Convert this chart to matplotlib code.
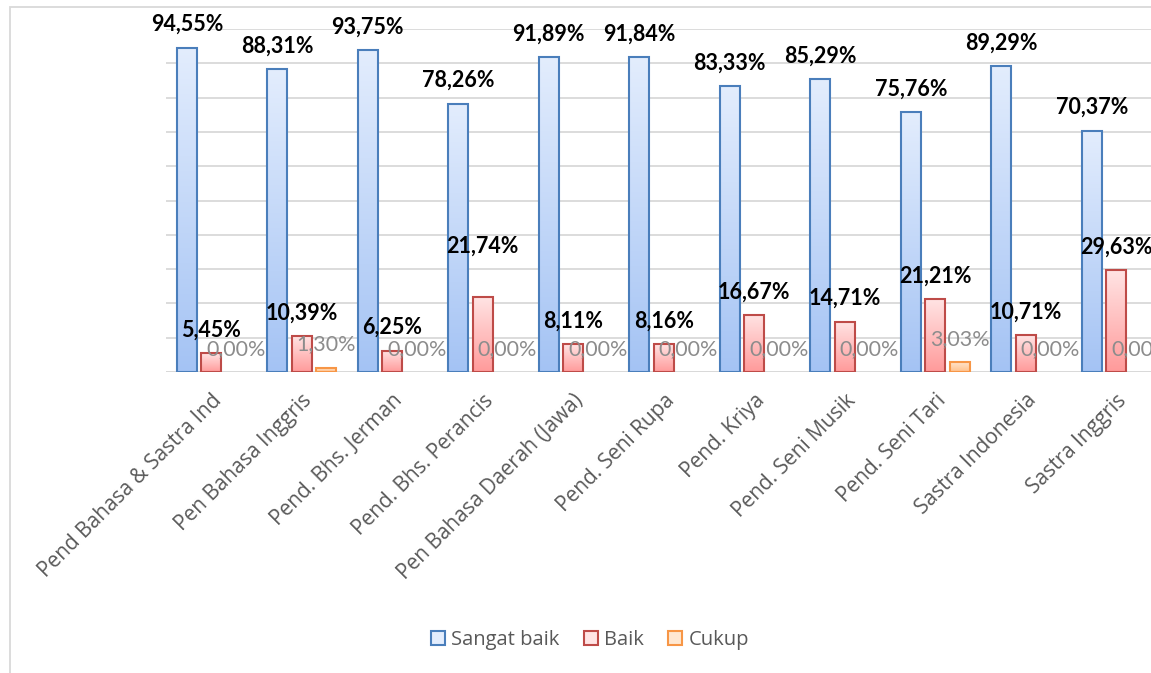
import numpy as np
import matplotlib
matplotlib.use('Agg')
import matplotlib.pyplot as plt
from matplotlib.colors import LinearSegmentedColormap
from matplotlib.patches import Rectangle, Patch

# data
categories = ['Pend Bahasa & Sastra Ind', 'Pen Bahasa Inggris', 'Pend. Bhs. Jerman',
              'Pend. Bhs. Perancis', 'Pen Bahasa Daerah (Jawa)', 'Pend. Seni Rupa',
              'Pend. Kriya', 'Pend. Seni Musik', 'Pend. Seni Tari',
              'Sastra Indonesia', 'Sastra Inggris']
sangat_baik = [94.55, 88.31, 93.75, 78.26, 91.89, 91.84, 83.33, 85.29, 75.76, 89.29, 70.37]
baik = [5.45, 10.39, 6.25, 21.74, 8.11, 8.16, 16.67, 14.71, 21.21, 10.71, 29.63]
cukup = [0.00, 1.30, 0.00, 0.00, 0.00, 0.00, 0.00, 0.00, 3.03, 0.00, 0.00]
series_names = ['Sangat baik', 'Baik', 'Cukup']

# style per series: (top colour, bottom colour, edge colour)
styles = [('#e3edfd', '#a4c3f4', '#4a7ebb'),
          ('#ffe4e4', '#ff9a9a', '#be4b48'),
          ('#ffe8d2', '#ffc08a', '#f79646')]
label_fmt = [dict(color='black', fontweight='bold'),
             dict(color='black', fontweight='bold'),
             dict(color='#8c8c8c', fontweight='normal')]

W, H = 1151, 673
fig = plt.figure(figsize=(W / 100, H / 100), dpi=100)

# outer chart border (cropped at right/bottom like the original)
fig.patches.append(Rectangle((9.5 / W, -0.1), 1.2, (H - 7) / H + 0.1, transform=fig.transFigure,
                             fill=False, edgecolor='#d9d9d9', linewidth=1.3))

ax = fig.add_axes([166 / W, (H - 372) / H, 905 / W * 11 / 10, 343 / H])
ax.set_xlim(-0.5, len(categories) - 0.5)
ax.set_ylim(0, 100)

for s in ax.spines.values():
    s.set_visible(False)
ax.set_yticks(np.arange(0, 101, 10))
ax.set_yticklabels([])
ax.tick_params(axis='y', length=0)
ax.tick_params(axis='x', length=0, pad=13)
ax.yaxis.grid(True, color='#d9d9d9', linewidth=1.3)
ax.set_axisbelow(True)

x = np.arange(len(categories))
bw = 0.22
step = 0.27
series = [sangat_baik, baik, cukup]

# manual label nudges (pixels) like dragged labels in the original
nudge = {(1, 3): 28}

grad = np.linspace(0, 1, 256).reshape(-1, 1)
for si, vals in enumerate(series):
    top, bot, edge = styles[si]
    cmap = LinearSegmentedColormap.from_list('g%d' % si, [bot, top])
    xs = x + (si - 1) * step
    bars = ax.bar(xs, vals, width=bw, facecolor='none', edgecolor=edge, linewidth=1.5, zorder=3)
    for b, v in zip(bars, vals):
        if v <= 0:
            b.set_visible(False)
            continue
        im = ax.imshow(grad, cmap=cmap, aspect='auto', origin='lower', zorder=2.5,
                       extent=[b.get_x(), b.get_x() + bw, 0, v])
        im.set_clip_path(b)
    for i, (xx, v) in enumerate(zip(xs, vals)):
        dy = 23 + nudge.get((si, i), 0)
        ax.annotate(('%.2f%%' % v).replace('.', ','), (xx, v), xytext=(0, dy * 0.72),
                    textcoords='offset points', ha='center', va='center', fontsize=15.5,
                    family=['Lato', 'DejaVu Sans'], zorder=5, **label_fmt[si])

ax.set_xticks(x)
ax.set_xticklabels(categories, rotation=45, ha='right', rotation_mode='anchor',
                   fontsize=15, color='#595959', family=['Open Sans', 'DejaVu Sans'])
ax.axhline(0, color='#d9d9d9', linewidth=1.3, zorder=1)

handles = [Patch(facecolor=styles[i][0], edgecolor=styles[i][2], linewidth=1.5) for i in range(3)]
leg = fig.legend(handles, series_names, loc='center', bbox_to_anchor=(590 / W, 1 - 640 / H),
                 ncol=3, frameon=False, handlelength=0.7, handleheight=0.7, handletextpad=0.3,
                 columnspacing=1.2, prop={'family': 'Open Sans', 'size': 14.5})
for t in leg.get_texts():
    t.set_color('#595959')

fig.savefig('out.png', dpi=100)
